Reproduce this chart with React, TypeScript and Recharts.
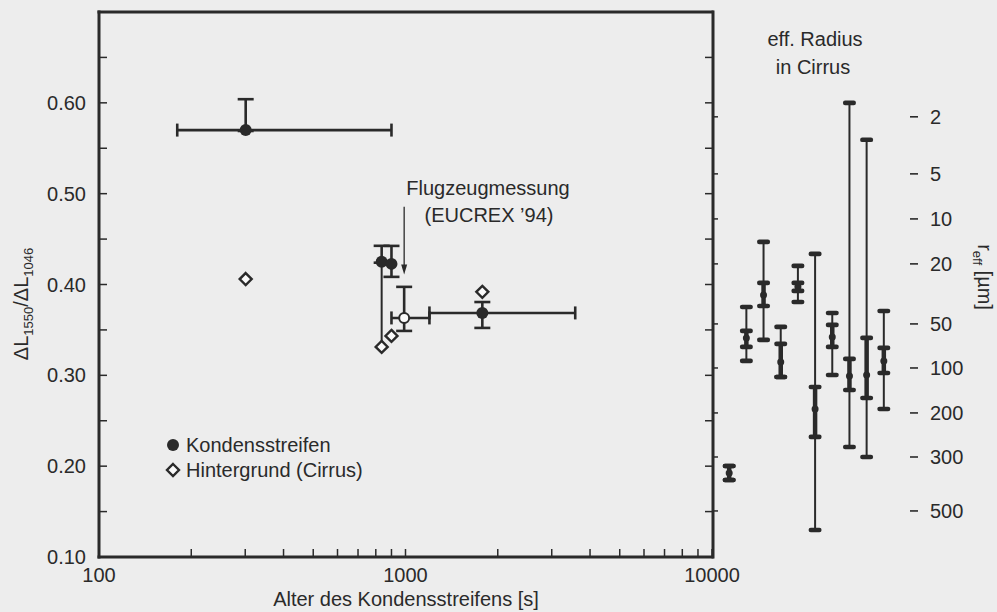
import React from 'react';
import { ScatterChart, Scatter, XAxis, YAxis, ErrorBar, ReferenceLine } from 'recharts';

const INK = '#2a2a2a';
const BG = '#ededed';
const FONT = '"Liberation Sans", Arial, Helvetica, sans-serif';

// ---- axes ----
const ageTicks = [100, 200, 300, 400, 500, 600, 700, 800, 900, 1000, 2000, 3000, 4000, 5000, 6000, 7000, 8000, 9000, 10000];
const ageLabels: Record<number, string> = { 100: '100', 1000: '1000', 10000: '10000' };
const ratioTicks = [0.1, 0.15, 0.2, 0.25, 0.3, 0.35, 0.4, 0.45, 0.5, 0.55, 0.6, 0.65, 0.7];
const ratioLabels = ['0.10', '', '0.20', '', '0.30', '', '0.40', '', '0.50', '', '0.60', '', ''];
// effective radius scale (µm) placed at ratio positions
const reffTickRatios = [0.5846, 0.5218, 0.4722, 0.4227, 0.3566, 0.3081, 0.2586, 0.2101, 0.1507];
const reffTickLabels = ['2', '5', '10', '20', '50', '100', '200', '300', '500'];

// ---- Kondensstreifen ----
const contrailAge = [301, 836, 900, 1781];
const contrailRatio = [0.570, 0.425, 0.4227, 0.3687];
const contrailRatioErr: ([number, number] | null)[] = [[0.001, 0.034], [0.001, 0.0176], [0.0143, 0.0198], [0.0165, 0.012]];
const contrailAgeErr: ([number, number] | null)[] = [[121, 599], null, null, [584, 1798]];

// ---- Hintergrund (Cirrus) ----
const cirrusAge = [301, 836, 900, 1781];
const cirrusRatio = [0.406, 0.3313, 0.3434, 0.3919];
const cirrusRatioErr: ([number, number] | null)[] = [null, [0, 0.0936], null, null];

// ---- Flugzeugmessung (EUCREX '94) ----
const flightAge = [990];
const flightRatio = [0.3632];
const flightAgeErr: [number, number][] = [[90, 207]];
const flightRatioErr: [number, number][] = [[0.0143, 0.0342]];

// ---- eff. Radius in Cirrus (ratio units) ----
const reffCenter = [0.1925, 0.3412, 0.3885, 0.3148, 0.3974, 0.2630, 0.3423, 0.2993, 0.3004, 0.3159];
const reffOuterTop = [0.2002, 0.3753, 0.4469, 0.3533, 0.4205, 0.4337, 0.3687, 0.6000, 0.5593, 0.3709];
const reffOuterBottom = [0.1848, 0.3159, 0.3390, 0.2982, 0.3808, 0.1297, 0.3004, 0.2211, 0.2101, 0.2630];
const reffInnerTop = [0.2002, 0.3489, 0.4018, 0.3346, 0.4018, 0.2872, 0.3555, 0.3181, 0.3412, 0.3302];
const reffInnerBottom = [0.1848, 0.3313, 0.3764, 0.2982, 0.3930, 0.2322, 0.3313, 0.2839, 0.2751, 0.3026];

const contrailData = contrailAge.map((x, i) => ({ x, y: contrailRatio[i], ex: contrailAgeErr[i], ey: contrailRatioErr[i] }));
const cirrusData = cirrusAge.map((x, i) => ({ x, y: cirrusRatio[i], ey: cirrusRatioErr[i] }));
const flightData = flightAge.map((x, i) => ({ x, y: flightRatio[i], ex: flightAgeErr[i], ey: flightRatioErr[i] }));
const reffData = reffCenter.map((y, i) => ({
  x: i,
  y,
  outer: [y - reffOuterBottom[i], reffOuterTop[i] - y],
  inner: [y - reffInnerBottom[i], reffInnerTop[i] - y],
}));
const reffCaps = reffCenter.flatMap((_, i) => [
  { x: i, y: reffOuterTop[i] },
  { x: i, y: reffOuterBottom[i] },
  { x: i, y: reffInnerTop[i] },
  { x: i, y: reffInnerBottom[i] },
]);

const txt = { fontFamily: FONT, fill: INK } as const;

const LeftTick = (p: any) => {
  const label = ratioLabels[p.index] || '';
  return (
    <g>
      <line x1={p.x} y1={p.y} x2={p.x + 8} y2={p.y} stroke={INK} strokeWidth={1.5} />
      {label && (
        <text x={p.x - 13} y={p.y + 7} textAnchor="end" fontSize={20} {...txt}>{label}</text>
      )}
    </g>
  );
};
const RightInTick = (p: any) => (
  <line x1={p.x} y1={p.y} x2={p.x - 8} y2={p.y} stroke={INK} strokeWidth={1.5} />
);
const RightOutTick = (p: any) => (
  <line x1={p.x} y1={p.y} x2={p.x + 6} y2={p.y} stroke={INK} strokeWidth={1.5} />
);
const BottomTick = (p: any) => {
  const label = ageLabels[p.payload.value];
  return (
    <g>
      <line x1={p.x} y1={p.y} x2={p.x} y2={p.y - 8} stroke={INK} strokeWidth={1.5} />
      {label && (
        <text x={p.x} y={p.y + 25} textAnchor="middle" fontSize={20} {...txt}>{label}</text>
      )}
    </g>
  );
};
const TopTick = (p: any) => (
  <line x1={p.x} y1={p.y} x2={p.x} y2={p.y + 8} stroke={INK} strokeWidth={1.5} />
);
const ReffLabel = (p: any) => (
  <g>
    <line x1={p.x + 9} y1={p.y} x2={p.x + 17} y2={p.y} stroke={INK} strokeWidth={1.6} />
    <text x={p.x + 29} y={p.y + 7} textAnchor="start" fontSize={20} {...txt}>{reffTickLabels[p.index]}</text>
  </g>
);

const FilledCircle = (p: any) => <circle cx={p.cx} cy={p.cy} r={6} fill={INK} />;
const OpenCircle = (p: any) => <circle cx={p.cx} cy={p.cy} r={5} fill="#fafafa" stroke={INK} strokeWidth={2} />;
const Diamond = (p: any) => (
  <path
    d={`M${p.cx},${p.cy - 6} L${p.cx + 6},${p.cy} L${p.cx},${p.cy + 6} L${p.cx - 6},${p.cy} Z`}
    fill="#fafafa"
    stroke={INK}
    strokeWidth={2.4}
  />
);
const CapMark = (p: any) => <rect x={p.cx - 6.5} y={p.cy - 2.3} width={13} height={4.6} rx={2.2} fill={INK} />;
const CenterDot = (p: any) => <circle cx={p.cx} cy={p.cy} r={3.5} fill={INK} />;

const Arrow = (p: any) => {
  const { x1, y1, x2, y2 } = p;
  return (
    <g>
      <line x1={x1} y1={y1} x2={x2} y2={y2 - 8} stroke={INK} strokeWidth={1.3} />
      <path d={`M${x2 - 3},${y2 - 10} L${x2 + 3},${y2 - 10} L${x2},${y2} Z`} fill={INK} />
    </g>
  );
};

const axisLineStyle = { stroke: INK, strokeWidth: 3, strokeLinecap: 'square' as const };

export default function App() {
  return (
    <div style={{ position: 'absolute', left: 0, top: 0, width: 997, height: 612, background: BG, overflow: 'hidden' }}>
      <div style={{ position: 'absolute', left: 0, top: 0 }}>
        <ScatterChart width={760} height={612} margin={{ top: 11, right: 46, bottom: 0, left: 0 }}>
          <XAxis
            dataKey="x"
            type="number"
            scale="log"
            domain={[100, 10000]}
            allowDataOverflow
            ticks={ageTicks}
            interval={0}
            height={55}
            tickSize={0}
            tickMargin={0}
            tickLine={false}
            axisLine={axisLineStyle}
            tick={<BottomTick />}
          />
          <XAxis
            xAxisId="top"
            orientation="top"
            type="number"
            scale="log"
            domain={[100, 10000]}
            allowDataOverflow
            ticks={ageTicks}
            interval={0}
            height={1}
            tickSize={0}
            tickMargin={0}
            tickLine={false}
            axisLine={axisLineStyle}
            tick={<TopTick />}
          />
          <YAxis
            dataKey="y"
            type="number"
            domain={[0.1, 0.7]}
            allowDataOverflow
            ticks={ratioTicks}
            interval={0}
            width={99}
            tickSize={0}
            tickMargin={0}
            tickLine={false}
            axisLine={axisLineStyle}
            tick={<LeftTick />}
          />
          <YAxis
            yAxisId="rin"
            orientation="right"
            type="number"
            domain={[0.1, 0.7]}
            allowDataOverflow
            ticks={ratioTicks}
            interval={0}
            width={1}
            tickSize={0}
            tickMargin={0}
            tickLine={false}
            axisLine={axisLineStyle}
            tick={<RightInTick />}
          />
          <YAxis
            yAxisId="reff"
            orientation="right"
            type="number"
            domain={[0.1, 0.7]}
            allowDataOverflow
            ticks={reffTickRatios}
            interval={0}
            width={1}
            tickSize={0}
            tickMargin={0}
            tickLine={false}
            axisLine={false}
            tick={<RightOutTick />}
          />
          <ReferenceLine
            segment={[{ x: 990, y: 0.4855 }, { x: 990, y: 0.411 }]}
            stroke={INK}
            shape={Arrow}
          />
          <Scatter data={cirrusData} shape={Diamond} isAnimationActive={false}>
            <ErrorBar dataKey="ey" direction="y" width={0} stroke={INK} strokeWidth={2} isAnimationActive={false} />
          </Scatter>
          <Scatter data={contrailData} shape={FilledCircle} isAnimationActive={false}>
            <ErrorBar dataKey="ex" direction="x" width={6.5} stroke={INK} strokeWidth={2.6} isAnimationActive={false} />
            <ErrorBar dataKey="ey" direction="y" width={8} stroke={INK} strokeWidth={2.6} isAnimationActive={false} />
          </Scatter>
          <Scatter data={flightData} shape={OpenCircle} isAnimationActive={false}>
            <ErrorBar dataKey="ex" direction="x" width={6.5} stroke={INK} strokeWidth={2.6} isAnimationActive={false} />
            <ErrorBar dataKey="ey" direction="y" width={8} stroke={INK} strokeWidth={2.6} isAnimationActive={false} />
          </Scatter>
        </ScatterChart>
      </div>

      <div style={{ position: 'absolute', left: 712, top: 0 }}>
        <ScatterChart width={285} height={612} margin={{ top: 12, right: 0, bottom: 55, left: 0 }}>
          <XAxis dataKey="x" type="number" domain={[-1, 10]} allowDataOverflow hide />
          <YAxis
            dataKey="y"
            orientation="right"
            type="number"
            domain={[0.1, 0.7]}
            allowDataOverflow
            ticks={reffTickRatios}
            interval={0}
            width={96}
            tickSize={0}
            tickMargin={0}
            tickLine={false}
            axisLine={false}
            tick={<ReffLabel />}
          />
          <Scatter data={reffData} shape={CenterDot} isAnimationActive={false}>
            <ErrorBar dataKey="outer" direction="y" width={0} stroke={INK} strokeWidth={2} isAnimationActive={false} />
            <ErrorBar dataKey="inner" direction="y" width={0} stroke={INK} strokeWidth={4.5} isAnimationActive={false} />
          </Scatter>
          <Scatter data={reffCaps} shape={CapMark} isAnimationActive={false} />
        </ScatterChart>
      </div>

      <svg width={997} height={612} style={{ position: 'absolute', left: 0, top: 0, pointerEvents: 'none' }}>
        <g fontFamily={FONT} fill={INK} fontSize={20}>
          <text x={488} y={195} textAnchor="middle">Flugzeugmessung</text>
          <text x={489} y={222} textAnchor="middle">(EUCREX ’94)</text>
          <text x={815} y={46} textAnchor="middle">eff. Radius</text>
          <text x={813} y={74} textAnchor="middle">in Cirrus</text>
          <text x={406} y={606} textAnchor="middle">Alter des Kondensstreifens [s]</text>
          <text transform="translate(28,304) rotate(-90)" textAnchor="middle">
            ΔL<tspan fontSize={13} dy={5}>1550</tspan>
            <tspan dy={-5}>/ΔL</tspan>
            <tspan fontSize={13} dy={5}>1046</tspan>
          </text>
          <text transform="translate(978,277) rotate(90)" textAnchor="middle">
            r<tspan fontSize={13} dy={5}>eff</tspan>
            <tspan dy={-5}> [µm]</tspan>
          </text>
          <circle cx={173} cy={445} r={6} fill={INK} />
          <text x={186} y={452}>Kondensstreifen</text>
          <path d="M173,464 L179,470 L173,476 L167,470 Z" fill="#fafafa" stroke={INK} strokeWidth={2.4} />
          <text x={186} y={477}>Hintergrund (Cirrus)</text>
        </g>
      </svg>
    </div>
  );
}
